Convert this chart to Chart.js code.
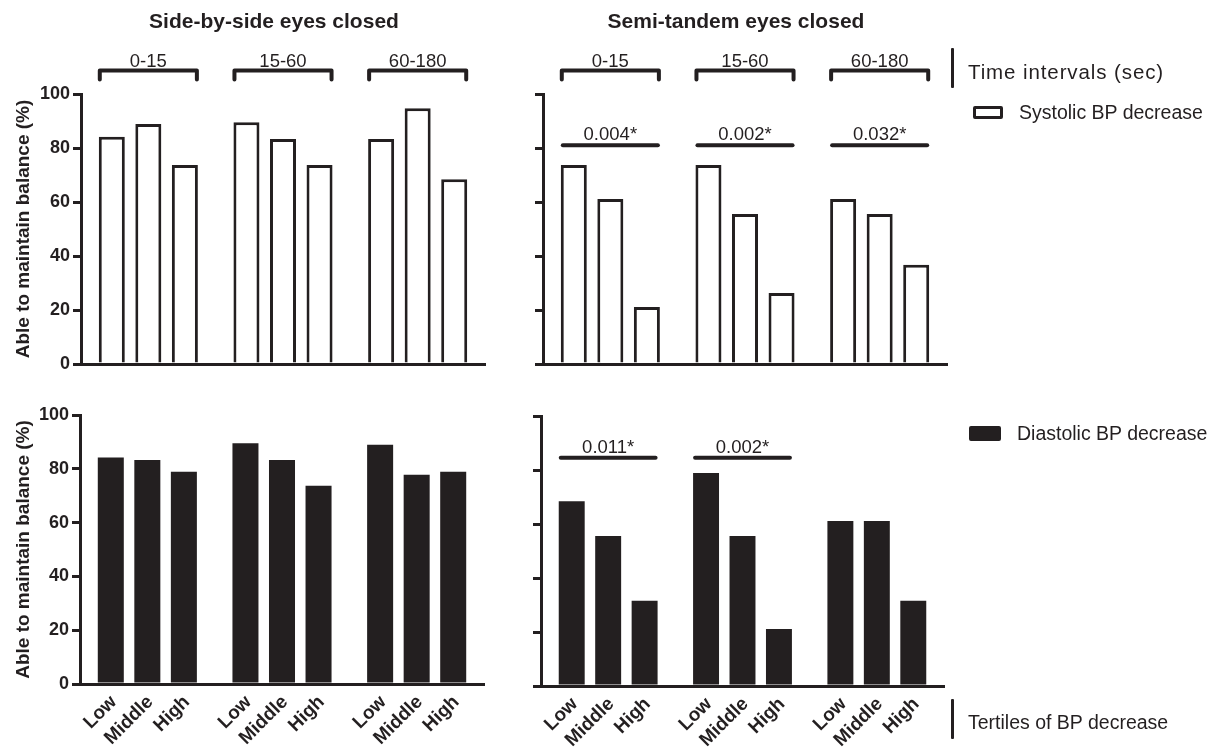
<!DOCTYPE html>
<html>
<head>
<meta charset="utf-8">
<script src="https://cdn.jsdelivr.net/npm/chart.js@4/dist/chart.umd.min.js"></script>
<style>
  html, body { margin: 0; padding: 0; background: #ffffff; }
  #wrap { position: relative; width: 1213px; height: 747px; overflow: hidden;
          font-family: "Liberation Sans", Arial, Helvetica, sans-serif; color: #231f20; }
  #wrap canvas { position: absolute; left: 0; top: 0; }
  .txt { position: absolute; white-space: nowrap; line-height: 1; }
  .title { font-weight: bold; font-size: 21px; top: 10px; transform: translateX(-50%); }
  .legend { font-size: 19.5px; }
  .rule { position: absolute; width: 3px; background: #231f20; border-radius: 1px; }
  .swatch { position: absolute; box-sizing: border-box; border: 3px solid #231f20; border-radius: 2px; }
</style>
</head>
<body>
<div id="wrap">
  <canvas id="sideSys" width="1213" height="747"></canvas>
  <canvas id="semiSys" width="1213" height="747"></canvas>
  <canvas id="sideDia" width="1213" height="747"></canvas>
  <canvas id="semiDia" width="1213" height="747"></canvas>

  <div class="txt title" style="left:274px;">Side-by-side eyes closed</div>
  <div class="txt title" style="left:736px;">Semi-tandem eyes closed</div>

  <div class="rule" style="left:951px; top:48px; height:40px;"></div>
  <div class="txt legend" style="left:968px; top:62px; font-size:20.5px; letter-spacing:0.9px;">Time intervals (sec)</div>
  <div class="swatch" style="left:973px; top:106px; width:30px; height:13px; background:#fff;"></div>
  <div class="txt legend" style="left:1019px; top:103px;">Systolic BP decrease</div>
  <div class="swatch" style="left:969px; top:426px; width:32px; height:15px; background:#231f20;"></div>
  <div class="txt legend" style="left:1017px; top:424px;">Diastolic BP decrease</div>
  <div class="rule" style="left:951px; top:699px; height:40px;"></div>
  <div class="txt legend" style="left:968px; top:713px;">Tertiles of BP decrease</div>
</div>

<script>
// Time intervals (one bar group each) and BP-decrease tertiles (one bar per group)
const intervals = ['0-15', '15-60', '60-180'];
const tertiles = ['Low', 'Middle', 'High'];
const yTicks = [0, 20, 40, 60, 80, 100];

// % able to maintain balance, per tertile across the three intervals
const sideBySideSystolicLow = [84.2, 89.5, 83.3];
const sideBySideSystolicMiddle = [88.9, 83.3, 94.7];
const sideBySideSystolicHigh = [73.7, 73.7, 68.4];

const semiTandemSystolicLow = [73.7, 73.7, 61.1];
const semiTandemSystolicMiddle = [61.1, 55.6, 55.6];
const semiTandemSystolicHigh = [21.1, 26.3, 36.8];

const sideBySideDiastolicLow = [84.2, 89.5, 88.9];
const sideBySideDiastolicMiddle = [83.3, 83.3, 77.8];
const sideBySideDiastolicHigh = [78.9, 73.7, 78.9];

const semiTandemDiastolicLow = [68.4, 78.9, 61.1];
const semiTandemDiastolicMiddle = [55.6, 55.6, 61.1];
const semiTandemDiastolicHigh = [31.6, 21.1, 31.6];

// Trend-test p-values printed over each group
const semiTandemSystolicP = ['0.004*', '0.002*', '0.032*'];
const semiTandemDiastolicP = ['0.011*', '0.002*', ''];

const INK = '#231f20';
const FONT = '"Liberation Sans", Arial, Helvetica, sans-serif';
const W = 1213, H = 747;

// Brackets with interval names, p-value bars, and slanted tertile names
const panelMarks = {
  id: 'panelMarks',
  afterDatasetsDraw(chart, args, opts) {
    const ctx = chart.ctx;
    const nSets = chart.data.datasets.length;
    const first = chart.getDatasetMeta(0).data;
    const last = chart.getDatasetMeta(nSets - 1).data;
    ctx.save();
    ctx.fillStyle = INK;
    ctx.strokeStyle = INK;
    chart.data.labels.forEach((lab, j) => {
      const a = first[j], b = last[j];
      const xl = a.x - a.width / 2, xr = b.x + b.width / 2, xc = (xl + xr) / 2;
      if (opts.bracketY != null) {
        const by = opts.bracketY;
        ctx.lineWidth = 4; ctx.lineJoin = 'round'; ctx.lineCap = 'round';
        ctx.beginPath();
        ctx.moveTo(xl + 1, by + 9); ctx.lineTo(xl + 1, by);
        ctx.lineTo(xr - 1, by); ctx.lineTo(xr - 1, by + 9);
        ctx.stroke();
        ctx.font = '18.5px ' + FONT;
        ctx.textAlign = 'center'; ctx.textBaseline = 'alphabetic';
        ctx.fillText(lab, xc, by - 3.5);
      }
      const p = opts.pValues ? opts.pValues[j] : '';
      if (p) {
        const y = chart.scales.y.getPixelForValue(opts.pLevel);
        ctx.lineWidth = 4; ctx.lineCap = 'round';
        ctx.beginPath(); ctx.moveTo(xl + 2, y); ctx.lineTo(xr - 2, y); ctx.stroke();
        ctx.font = '18.5px ' + FONT;
        ctx.textAlign = 'center'; ctx.textBaseline = 'alphabetic';
        ctx.fillText(p, xc, y - 5);
      }
    });
    if (opts.tierLabels) {
      const bottom = chart.chartArea.bottom;
      ctx.font = 'bold 19px ' + FONT;
      ctx.textAlign = 'right'; ctx.textBaseline = 'middle';
      chart.data.datasets.forEach((ds, i) => {
        chart.getDatasetMeta(i).data.forEach(el => {
          ctx.save();
          ctx.translate(el.x + 3, bottom + 15);
          ctx.rotate(-Math.PI / 4);
          ctx.fillText(ds.label, 0, 0);
          ctx.restore();
        });
      });
    }
    ctx.restore();
  }
};

function panel(id, area, series, filled, withYLabels, marks) {
  return new Chart(document.getElementById(id), {
    type: 'bar',
    data: {
      labels: intervals,
      datasets: tertiles.map((name, i) => ({
        label: name,
        data: series[i],
        backgroundColor: filled ? INK : '#ffffff',
        borderColor: INK,
        borderWidth: filled ? 0 : 3,
        borderSkipped: 'bottom',
        categoryPercentage: 0.814,
        barPercentage: 0.712
      }))
    },
    options: {
      responsive: false,
      animation: false,
      devicePixelRatio: 1,
      layout: { padding: { left: 0, top: area.top, right: W - area.right, bottom: H - area.bottom } },
      plugins: {
        legend: { display: false },
        tooltip: { enabled: false },
        panelMarks: marks
      },
      scales: {
        x: {
          type: 'category',
          offset: true,
          ticks: { display: false },
          grid: { display: false },
          border: { display: true, width: 3, color: INK },
          afterFit: s => { s.height = 0; }
        },
        y: {
          min: 0, max: 100,
          afterBuildTicks: s => { s.ticks = yTicks.map(v => ({ value: v })); },
          ticks: {
            display: withYLabels,
            color: INK,
            padding: 3,
            font: { family: FONT, size: 18, weight: 'bold' }
          },
          grid: {
            drawOnChartArea: false, drawTicks: true, tickLength: 8,
            lineWidth: 3, tickWidth: 3, color: INK, tickColor: INK
          },
          border: { display: true, width: 3, color: INK },
          title: {
            display: withYLabels,
            text: 'Able to maintain balance (%)',
            color: INK,
            padding: { top: 12, bottom: 0 },
            font: { family: FONT, size: 19, weight: 'bold', lineHeight: 1.2 }
          },
          afterFit: s => { s.width = area.left; }
        }
      }
    },
    plugins: [panelMarks]
  });
}

panel('sideSys', { left: 81, right: 485, top: 94, bottom: 364 },
  [sideBySideSystolicLow, sideBySideSystolicMiddle, sideBySideSystolicHigh],
  false, true, { bracketY: 70.5 });

panel('semiSys', { left: 543, right: 947, top: 94, bottom: 364 },
  [semiTandemSystolicLow, semiTandemSystolicMiddle, semiTandemSystolicHigh],
  false, false, { bracketY: 70.5, pValues: semiTandemSystolicP, pLevel: 81 });

panel('sideDia', { left: 80, right: 484, top: 415, bottom: 684 },
  [sideBySideDiastolicLow, sideBySideDiastolicMiddle, sideBySideDiastolicHigh],
  true, true, { tierLabels: true });

panel('semiDia', { left: 541, right: 944, top: 416, bottom: 686 },
  [semiTandemDiastolicLow, semiTandemDiastolicMiddle, semiTandemDiastolicHigh],
  true, false, { tierLabels: true, pValues: semiTandemDiastolicP, pLevel: 84.5 });
</script>
</body>
</html>
